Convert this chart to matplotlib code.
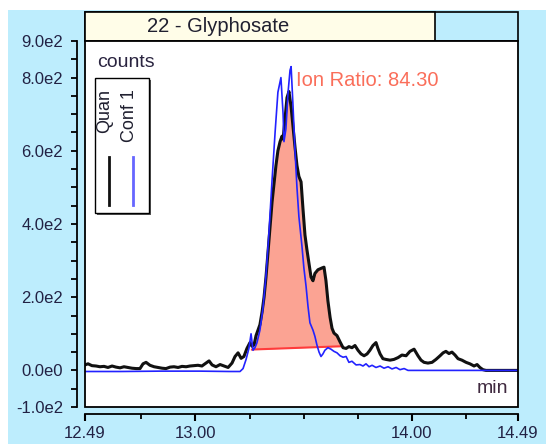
import numpy as np
import matplotlib
matplotlib.use('Agg')
import matplotlib.pyplot as plt
from matplotlib.patches import Rectangle

plt.rcParams['font.family'] = ['Liberation Sans', 'DejaVu Sans']

# ------------ data ---------------------------------------------------

title = '22 - Glyphosate'
ion_ratio_text = 'Ion Ratio: 84.30'

# Quan trace (black)
quan_t = [12.490, 12.504, 12.522, 12.541, 12.559, 12.578, 12.596, 12.615, 12.633, 12.652,
          12.670, 12.689, 12.707, 12.726, 12.744, 12.758, 12.772, 12.790, 12.809, 12.827,
          12.846, 12.864, 12.883, 12.901, 12.920, 12.938, 12.957, 12.975, 12.993, 13.012,
          13.030, 13.049, 13.063, 13.077, 13.095, 13.114, 13.132, 13.151, 13.169, 13.183,
          13.197, 13.211, 13.224, 13.238, 13.252, 13.261, 13.271, 13.280, 13.289, 13.298,
          13.308, 13.317, 13.326, 13.335, 13.345, 13.354, 13.363, 13.372, 13.381, 13.391,
          13.400, 13.405, 13.414, 13.423, 13.432, 13.442, 13.451, 13.460, 13.469, 13.478,
          13.488, 13.497, 13.506, 13.515, 13.525, 13.534, 13.543, 13.552, 13.566, 13.585,
          13.594, 13.603, 13.612, 13.622, 13.631, 13.640, 13.654, 13.668, 13.682, 13.696,
          13.709, 13.723, 13.737, 13.751, 13.765, 13.779, 13.793, 13.806, 13.820, 13.834,
          13.843, 13.853, 13.866, 13.880, 13.899, 13.917, 13.936, 13.954, 13.973, 13.991,
          14.010, 14.028, 14.042, 14.056, 14.074, 14.093, 14.111, 14.130, 14.144, 14.157,
          14.171, 14.185, 14.199, 14.213, 14.231, 14.250, 14.268, 14.287, 14.301, 14.314,
          14.328, 14.342, 14.490]
quan_c = [15, 18, 13, 12, 10, 11, 8, 12, 9, 7,
          10, 8, 6, 5, 5, 18, 22, 14, 10, 8,
          6, 5, 9, 10, 8, 11, 10, 12, 13, 14,
          12, 20, 26, 15, 10, 16, 12, 8, 20, 38,
          48, 33, 38, 60, 76, 66, 70, 95, 110, 125,
          160, 200, 255, 320, 390, 460, 510, 560, 600, 625,
          640, 632, 690, 745, 762, 720, 665, 610, 560, 530,
          515, 440, 370, 330, 290, 255, 245, 265, 275, 280,
          282, 245, 190, 145, 115, 102, 95, 78, 62, 60,
          65, 62, 68, 55, 45, 40, 45, 55, 68, 76,
          60, 45, 32, 30, 28, 30, 35, 42, 40, 52,
          58, 40, 28, 22, 20, 22, 30, 40, 48, 52,
          46, 50, 42, 32, 28, 22, 18, 12, 16, 8,
          2, 0, 0]

# Conf 1 trace (blue)
conf_t = [12.490, 12.652, 12.837, 13.021, 13.160, 13.206, 13.220, 13.234, 13.247, 13.257,
          13.266, 13.275, 13.284, 13.298, 13.312, 13.326, 13.340, 13.354, 13.368, 13.381,
          13.395, 13.405, 13.409, 13.418, 13.428, 13.437, 13.442, 13.451, 13.460, 13.469,
          13.478, 13.492, 13.501, 13.511, 13.520, 13.529, 13.543, 13.552, 13.561, 13.571,
          13.580, 13.589, 13.598, 13.612, 13.626, 13.640, 13.654, 13.668, 13.682, 13.696,
          13.709, 13.723, 13.742, 13.760, 13.774, 13.788, 13.802, 13.816, 13.834, 13.853,
          13.871, 13.890, 13.908, 13.927, 13.945, 13.964, 13.982, 14.490]
conf_c = [-3, -3, -2, -2, -3, -3, 5, 30, 60, 100,
          55, 62, 75, 110, 170, 260, 380, 520, 650, 760,
          800, 700, 625, 660, 760, 820, 830, 720, 600, 500,
          420, 340, 280, 230, 175, 130, 110, 93, 70, 50,
          38, 45, 55, 62, 58, 52, 48, 40, 36, 38,
          22, 25, 15, 16, 12, 18, 10, 14, 8, 12,
          6, 10, 4, 8, 2, 5, 0, 0]

# integration baseline (red)
base_t = [13.261, 13.677]
base_c = [57, 66]

# ------------ layout helpers (pixels of a 546x444 picture) ---------------

W, H = 546, 444
BLUE = '#BDEDFD'


def fx(x):
    return x / W


def fy(y):
    return 1 - y / H


fig = plt.figure(figsize=(W / 100, H / 100), dpi=100, facecolor='white')

# light blue background panel
fig.patches.append(Rectangle((fx(8), 0), 1 - fx(8), fy(10), transform=fig.transFigure,
                             facecolor=BLUE, edgecolor='none', zorder=-10))

# header bar
fig.patches.append(Rectangle((fx(85), fy(41)), fx(518) - fx(85), fy(12) - fy(41),
                             transform=fig.transFigure, facecolor=BLUE,
                             edgecolor='black', lw=1.2, zorder=1))
fig.patches.append(Rectangle((fx(85), fy(41)), fx(435) - fx(85), fy(12) - fy(41),
                             transform=fig.transFigure, facecolor='#FFFDE8',
                             edgecolor='black', lw=1.2, zorder=2))
fig.text(fx(218), fy(26), title, ha='center', va='center', fontsize=14.5, color='#202030',
         zorder=20)

# ------------ main axes ------------------------------------------------

ax = fig.add_axes([fx(85), fy(407), (518 - 85) / W, (407 - 41) / H])
ax.set_zorder(5)
ax.set_facecolor('white')
ax.set_xlim(12.49, 14.49)
ax.set_ylim(-100, 900)

ax.spines['top'].set_visible(False)
ax.spines['right'].set_visible(False)
ax.spines['left'].set_position(('outward', 5.8))
ax.spines['bottom'].set_position(('outward', 5))
ax.spines['left'].set_linewidth(1.3)
ax.spines['bottom'].set_linewidth(1.3)
ax.add_patch(Rectangle((0, 0), 1, 1, transform=ax.transAxes, fill=False,
                       edgecolor='black', lw=1.3, clip_on=False, zorder=10))

ax.set_yticks([-100, 0, 200, 400, 600, 800, 900])
ax.set_yticklabels(['-1.0e2', '0.0e0', '2.0e2', '4.0e2', '6.0e2', '8.0e2', '9.0e2'])
ax.set_yticks([-50, 50, 100, 150, 250, 300, 350, 450, 500, 550, 650, 700, 750, 850], minor=True)
ax.set_xticks([12.49, 13.0, 14.0, 14.49])
ax.set_xticklabels(['12.49', '13.00', '14.00', '14.49'])
ax.set_xticks([12.75, 13.25, 13.5, 13.75, 14.25], minor=True)

ax.tick_params(axis='y', which='both', direction='out', length=4.5, width=1.3,
               pad=5.5, labelsize=12, labelcolor='#222244')
ax.tick_params(axis='x', which='major', direction='out', length=5, width=1.5,
               pad=4, labelsize=12, labelcolor='#222244')
ax.tick_params(axis='x', which='minor', direction='out', length=3.5, width=1.3)

# peak area
fill_t = [t for t in quan_t if base_t[0] <= t <= base_t[1]]
fill_c = [c for t, c in zip(quan_t, quan_c) if base_t[0] <= t <= base_t[1]]
fill_b = np.interp(fill_t, base_t, base_c)
ax.fill_between(fill_t, fill_b, fill_c, color='#FBA393', lw=0, zorder=1)
ax.plot(base_t, base_c, color='#FF3B3B', lw=1.5, zorder=2)

ax.plot(quan_t, quan_c, color='#111111', lw=2.2, zorder=3)
ax.plot(conf_t, conf_c, color='#2222FF', lw=1.2, zorder=4)

# ------------ texts and legend -----------------------------------------

fig.text(fx(97), fy(67), 'counts', fontsize=14, color='#2a2440', va='baseline', zorder=20)
fig.text(fx(508), fy(393), 'min', fontsize=14, color='#402a40', ha='right', va='baseline',
         zorder=20)
fig.text(fx(296), fy(86), ion_ratio_text, fontsize=14.5, color='#FA6E5A', va='baseline',
         zorder=20)

fig.patches.append(Rectangle((fx(97), fy(215)), fx(151) - fx(97), fy(80) - fy(215),
                             transform=fig.transFigure, facecolor='#555555',
                             edgecolor='none', zorder=20))
fig.patches.append(Rectangle((fx(95), fy(213)), fx(149) - fx(95), fy(78) - fy(213),
                             transform=fig.transFigure, facecolor='white',
                             edgecolor='black', lw=1.0, zorder=21))
fig.text(fx(105), fy(89), 'Quan', rotation=90, ha='center', va='top', fontsize=13,
         color='#202030', zorder=22)
fig.text(fx(130), fy(89), 'Conf 1', rotation=90, ha='center', va='top', fontsize=13,
         color='#202030', zorder=22)
fig.lines.append(plt.Line2D([fx(109), fx(109)], [fy(157), fy(205)], transform=fig.transFigure,
                            color='#111111', lw=2.0, zorder=22))
fig.lines.append(plt.Line2D([fx(133), fx(133)], [fy(157), fy(205)], transform=fig.transFigure,
                            color='#6666FF', lw=2.0, zorder=22))

fig.savefig('out.png', dpi=100, facecolor='white')
